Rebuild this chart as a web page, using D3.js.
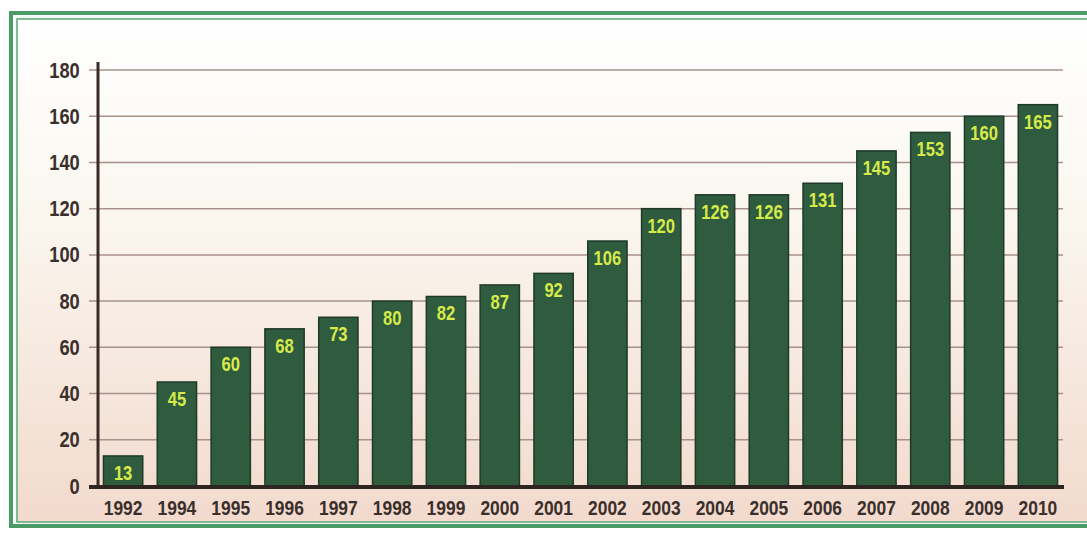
<!DOCTYPE html>
<html>
<head>
<meta charset="utf-8">
<script src="https://cdn.jsdelivr.net/npm/d3@7"></script>
<style>
  body { margin: 0; background: #fff; }
  text { font-family: 'Liberation Sans Narrow', 'Arial Narrow', 'Liberation Sans', sans-serif; font-weight: bold; }
</style>
</head>
<body>
<script>
// years on the x axis (no 1993 in the source)
const years = ['1992', '1994', '1995', '1996', '1997', '1998', '1999', '2000', '2001',
  '2002', '2003', '2004', '2005', '2006', '2007', '2008', '2009', '2010'];
// values written on the bars
const counts = [13, 45, 60, 68, 73, 80, 82, 87, 92, 106, 120, 126, 126, 131, 145, 153, 160, 165];
const yTicks = [0, 20, 40, 60, 80, 100, 120, 140, 160, 180];

const W = 1087, H = 533;
const squeeze = 0.83; // no narrow font installed, so squash the bold sans

const svg = d3.select('body')
  .append('svg')
  .attr('width', W)
  .attr('height', H);

const defs = svg.append('defs');
const grad = defs.append('linearGradient')
  .attr('id', 'bg')
  .attr('x1', 0).attr('y1', 0)
  .attr('x2', 0).attr('y2', 1);
grad.append('stop').attr('offset', '0%').attr('stop-color', '#ffffff');
grad.append('stop').attr('offset', '35%').attr('stop-color', '#fbf8f1');
grad.append('stop').attr('offset', '100%').attr('stop-color', '#f2dacd');

// frame
svg.append('rect')
  .attr('x', 11).attr('y', 13)
  .attr('width', 1090).attr('height', 513)
  .attr('fill', '#f4fbf6')
  .attr('stroke', '#4c9a68')
  .attr('stroke-width', 4);

svg.append('rect')
  .attr('x', 17).attr('y', 19)
  .attr('width', 1080).attr('height', 503)
  .attr('fill', 'url(#bg)')
  .attr('stroke', '#5aa676')
  .attr('stroke-width', 1.5);

const x = d3.scaleBand()
  .domain(years)
  .range([97, 1064])
  .paddingInner(0.27)
  .paddingOuter(0.12);

const y = d3.scaleLinear()
  .domain([0, 180])
  .range([486, 70]);

// gridlines
svg.append('g')
  .selectAll('line')
  .data(yTicks.filter(d => d > 0))
  .enter()
  .append('line')
  .attr('x1', 89)
  .attr('x2', 1063)
  .attr('y1', d => y(d))
  .attr('y2', d => y(d))
  .attr('stroke', '#a8918a')
  .attr('stroke-width', 1.5);

// y axis
const yAxis = svg.append('g')
  .attr('transform', 'translate(98,0)')
  .call(d3.axisLeft(y).tickValues(yTicks).tickSize(0).tickPadding(22));
yAxis.select('.domain').remove();
yAxis.selectAll('text')
  .attr('fill', '#3b2f2b')
  .attr('transform', `scale(${squeeze},1)`)
  .style('font-size', '22px');

svg.append('line')
  .attr('x1', 98).attr('x2', 98)
  .attr('y1', 62).attr('y2', 488)
  .attr('stroke', '#3a2b26')
  .attr('stroke-width', 3);

// bars
svg.selectAll('rect.bar')
  .data(counts)
  .enter()
  .append('rect')
  .attr('class', 'bar')
  .attr('x', (d, i) => x(years[i]))
  .attr('y', d => y(d))
  .attr('width', x.bandwidth())
  .attr('height', d => y(0) - y(d))
  .attr('fill', '#2f5c3e')
  .attr('stroke', '#1f3a29')
  .attr('stroke-width', 1.5);

svg.selectAll('text.val')
  .data(counts)
  .enter()
  .append('text')
  .attr('class', 'val')
  .attr('transform', (d, i) =>
    `translate(${x(years[i]) + x.bandwidth() / 2},${y(d) + 24}) scale(${squeeze},1)`)
  .attr('text-anchor', 'middle')
  .attr('fill', '#d6ea4a')
  .style('font-size', '20px')
  .text(d => d);

// x axis
const xAxis = svg.append('g')
  .attr('transform', 'translate(0,487)')
  .call(d3.axisBottom(x).tickSize(0).tickPadding(13));
xAxis.select('.domain').remove();
xAxis.selectAll('text')
  .attr('fill', '#3b2f2b')
  .attr('transform', `scale(${squeeze},1)`)
  .style('font-size', '21px');

svg.append('line')
  .attr('x1', 89).attr('x2', 1064)
  .attr('y1', 487).attr('y2', 487)
  .attr('stroke', '#2e2420')
  .attr('stroke-width', 4);
</script>
</body>
</html>
